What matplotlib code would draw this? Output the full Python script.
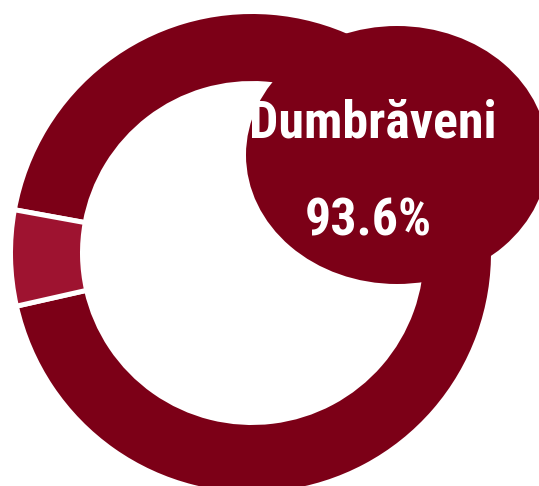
import matplotlib
matplotlib.use("Agg")
import matplotlib.pyplot as plt
from matplotlib.patches import Ellipse
from matplotlib import font_manager

# Data
categories = ["Dumbrăveni", "Other"]
values = [93.6, 6.4]
colors = ["#7C0017", "#9E1330"]
label_name = "Dumbrăveni"
label_value = "93.6%"

W, H = 539, 486
fig = plt.figure(figsize=(W / 100, H / 100), dpi=100)
ax = fig.add_axes([0, 0, 1, 1])

# pixel-like coordinates (y up)
cx, cy = 252, H - 253
R = 241.5
ring = 72
small_center = 181.2
start = small_center - 360 * values[1] / 100 / 2 - 360 * values[0] / 100

ax.pie(values, colors=colors, startangle=start, counterclock=True,
       center=(cx, cy), radius=R,
       wedgeprops=dict(width=ring, edgecolor="white", linewidth=3.6))

ell = Ellipse((397, H - 155), 302, 258, facecolor=colors[0], edgecolor="none", zorder=5)
ax.add_patch(ell)

avail = {f.name for f in font_manager.fontManager.ttflist}
fam = ["Roboto Condensed", "DejaVu Sans"] if "Roboto Condensed" in avail else ["Liberation Sans", "DejaVu Sans"]

ax.set_xlim(0, W)
ax.set_ylim(0, H)
ax.set_aspect("auto")
ax.set_axis_off()

t1 = ax.text(373, H - 137, label_name, color="white", fontsize=37, fontweight="bold",
             family=fam, ha="center", va="baseline", zorder=6)
t2 = ax.text(368.5, H - 235, label_value, color="white", fontsize=37, fontweight="bold",
             family=fam, ha="center", va="baseline", zorder=6)

# fit width of the title text to the reference (~248 px)
fig.canvas.draw()
r = fig.canvas.get_renderer()
w1 = t1.get_window_extent(r).width
fs = 37 * 248 / w1
fs = max(32, min(42, fs))
t1.set_fontsize(fs)
t2.set_fontsize(fs)

fig.savefig("out.png", dpi=100, facecolor="white")
